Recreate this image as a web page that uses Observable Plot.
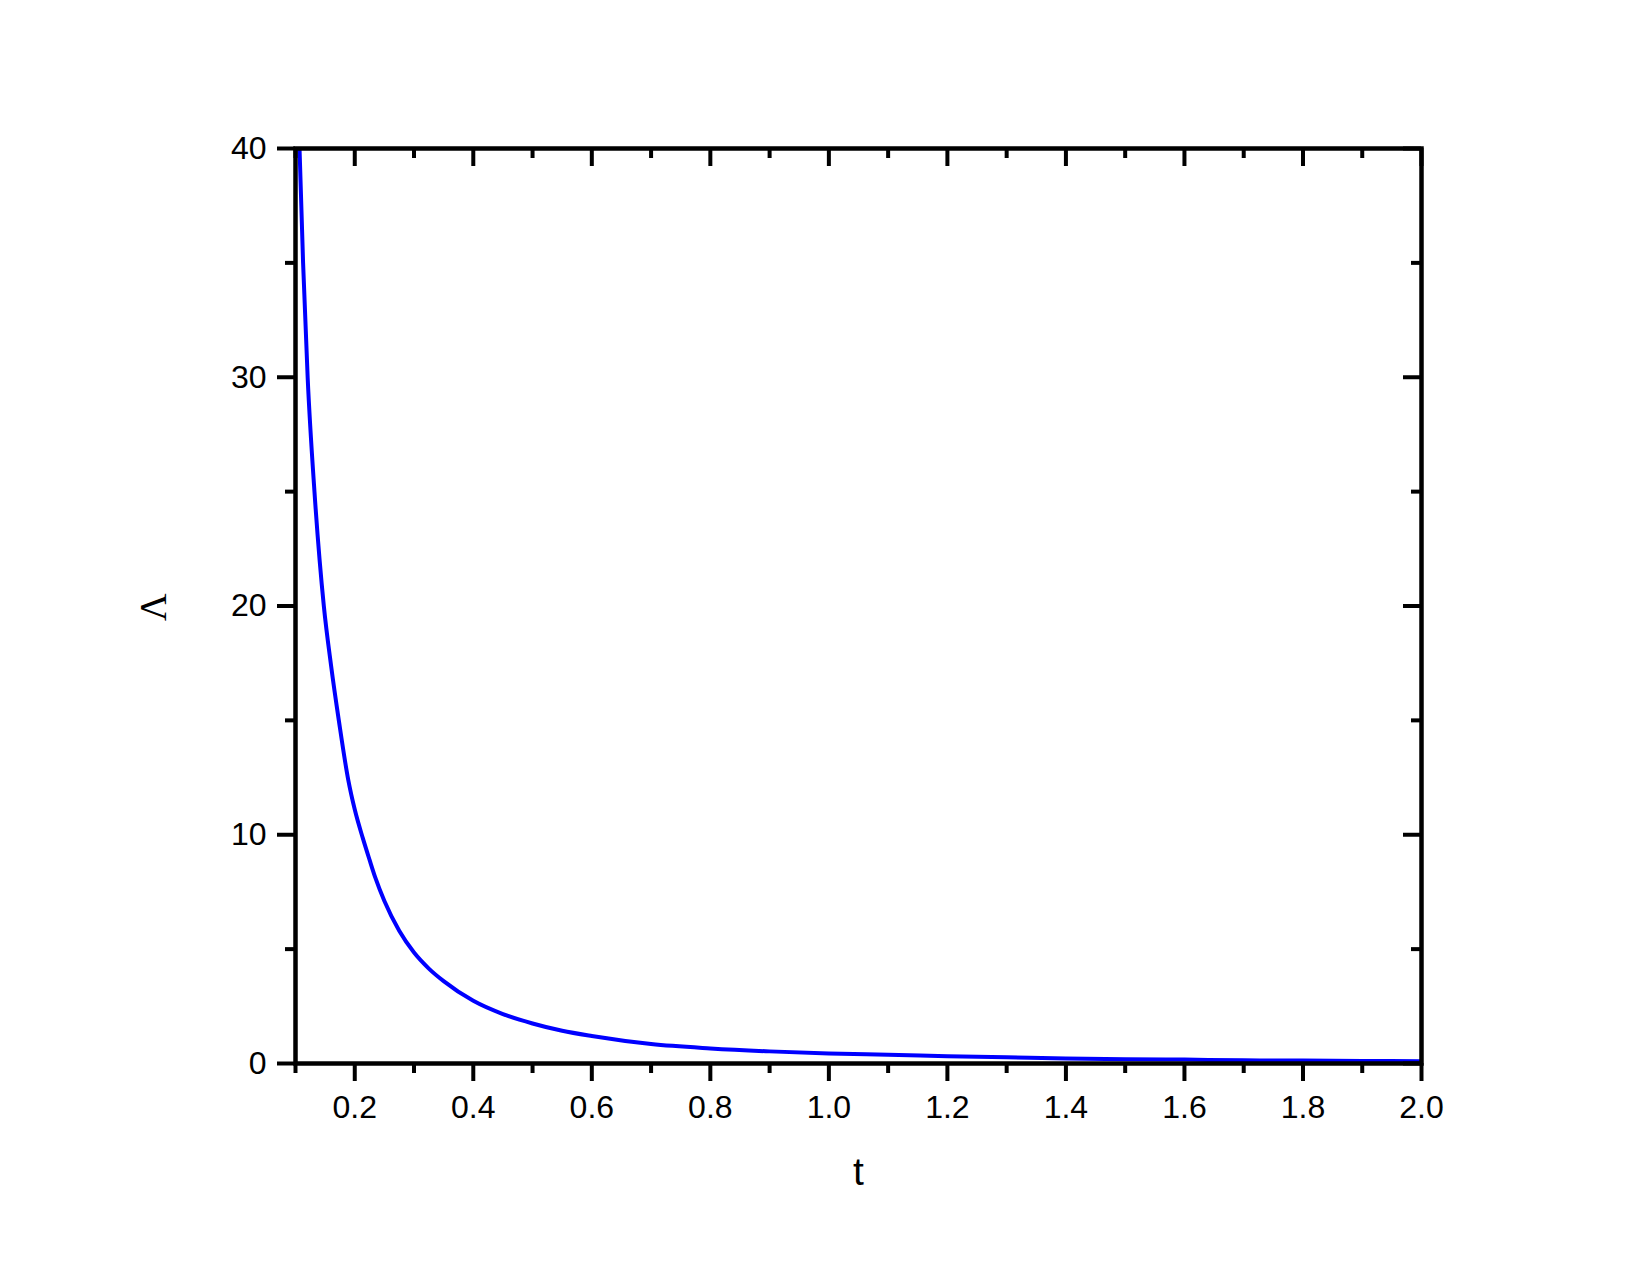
<!DOCTYPE html>
<html><head><meta charset="utf-8">
<script src="https://cdn.jsdelivr.net/npm/d3@7"></script>
<script src="https://cdn.jsdelivr.net/npm/@observablehq/plot@0.6"></script>
<style>body{margin:0;background:#fff;} #chart svg{display:block;}</style>
</head><body><div id="chart"></div>
<script>
const tValues = [0.1068, 0.1128, 0.1205, 0.132, 0.1478, 0.16, 0.1731, 0.189, 0.2, 0.2136, 0.225, 0.235, 0.25, 0.275, 0.3, 0.325, 0.35, 0.4, 0.45, 0.5, 0.55, 0.6, 0.7, 0.8, 0.9, 1.0, 1.1, 1.2, 1.3, 1.4, 1.5, 1.6, 1.7, 1.8, 1.9, 2.0];
const lambdaValues = [40, 35, 30, 25, 20, 17.4, 15, 12.4, 11.1, 9.85, 8.9, 8.1, 7.1, 5.8, 4.85, 4.15, 3.6, 2.74, 2.16, 1.75, 1.43, 1.2, 0.85, 0.66, 0.53, 0.44, 0.38, 0.32, 0.27, 0.22, 0.19, 0.17, 0.14, 0.13, 0.11, 0.10];
const xMajorTicks = [0.2, 0.4, 0.6, 0.8, 1.0, 1.2, 1.4, 1.6, 1.8, 2.0];
const xMinorTicks = [0.1, 0.3, 0.5, 0.7, 0.9, 1.1, 1.3, 1.5, 1.7, 1.9];
const yMajorTicks = [0, 10, 20, 30, 40];
const yMinorTicks = [5, 15, 25, 35];
const xLabel = "t";
const yLabel = "Λ";

const data = tValues.map((t, i) => ({t, L: lambdaValues[i]}));
const W = 1650, H = 1275, mL = 295, mR = 229, mT = 148, mB = 212;
const innerW = W - mL - mR, innerH = H - mT - mB;
const font = "'Liberation Sans', Arial, sans-serif";

const chart = Plot.plot({
  width: W, height: H,
  marginLeft: mL, marginRight: mR, marginTop: mT, marginBottom: mB,
  style: {background: "white", fontFamily: font, fontSize: "32px", color: "black"},
  x: {domain: [0.1, 2.0], label: null},
  y: {domain: [0, 40], label: null},
  marks: [
    Plot.line(data, {x: "t", y: "L", stroke: "#0000ff", strokeWidth: 4, curve: "monotone-x", clip: true}),
    // bottom axis (outward)
    Plot.axisX(xMajorTicks, {anchor: "bottom", tickSize: 18, tickPadding: 14, strokeWidth: 4, fontSize: 32, tickFormat: d => d.toFixed(1), label: null}),
    Plot.axisX(xMinorTicks, {anchor: "bottom", tickSize: 10, strokeWidth: 4, tickFormat: () => "", label: null}),
    // left axis (outward)
    Plot.axisY(yMajorTicks, {anchor: "left", tickSize: 18, tickPadding: 11, strokeWidth: 4, fontSize: 32, tickFormat: d => String(d), label: null}),
    Plot.axisY(yMinorTicks, {anchor: "left", tickSize: 10, strokeWidth: 4, tickFormat: () => "", label: null}),
    // top ticks (inward)
    Plot.tickX(xMajorTicks, {x: d => d, stroke: "black", strokeWidth: 4, insetBottom: innerH - 18}),
    Plot.tickX(xMinorTicks, {x: d => d, stroke: "black", strokeWidth: 4, insetBottom: innerH - 10}),
    // right ticks (inward)
    Plot.tickY(yMajorTicks, {y: d => d, stroke: "black", strokeWidth: 4, insetLeft: innerW - 18}),
    Plot.tickY(yMinorTicks, {y: d => d, stroke: "black", strokeWidth: 4, insetLeft: innerW - 10}),
    Plot.frame({stroke: "black", strokeWidth: 4.5}),
    Plot.text([xLabel], {text: d => d, frameAnchor: "bottom", dy: 121, lineAnchor: "bottom", fontSize: 39, fontFamily: font, fill: "black"}),
    Plot.text([yLabel], {text: d => d, frameAnchor: "left", dx: -141.5, dy: 15, rotate: -90, lineAnchor: "middle", fontSize: 38, fontFamily: "'Liberation Serif', 'Times New Roman', serif", fill: "black"})
  ]
});
document.getElementById("chart").appendChild(chart);
</script>
</body></html>
